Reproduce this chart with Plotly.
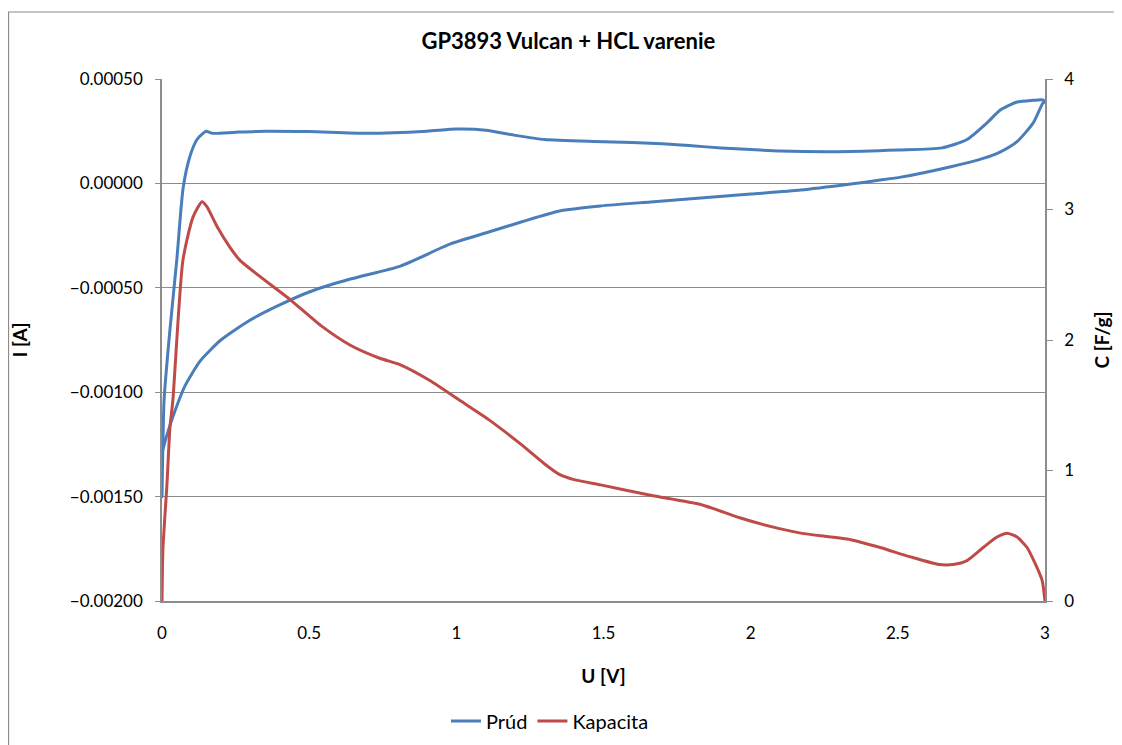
import plotly.graph_objects as go

# Prúd (current) - CV loop, upper branch then lower branch back
u_prud = [0.0, 0.007, 0.027, 0.05, 0.072, 0.095, 0.119, 0.139, 0.15, 0.17, 0.25, 0.35, 0.5, 0.7,
          0.9, 1.0, 1.1, 1.2, 1.3, 1.5, 1.7, 1.8, 1.9, 2.0, 2.1, 2.3, 2.5, 2.65, 2.735, 2.803,
          2.847, 2.905, 2.96, 2.993, 3.0,
          2.993, 2.96, 2.905, 2.847, 2.79, 2.68, 2.51, 2.44, 2.34, 2.17, 2.0, 1.83, 1.66, 1.49,
          1.35, 1.22, 1.11, 0.98, 0.81, 0.64, 0.50, 0.40, 0.30, 0.20, 0.13, 0.078, 0.044, 0.02,
          0.003, 0.0]
i_prud = [-0.0015, -0.00104, -0.0007, -0.00037, -0.00002, 0.00013, 0.00021, 0.00024, 0.00025,
          0.00024, 0.000245, 0.00025, 0.000248, 0.00024, 0.00025, 0.00026, 0.000255, 0.00023,
          0.00021, 0.0002, 0.00019, 0.00018, 0.00017, 0.000162, 0.000155, 0.000152, 0.00016,
          0.00017, 0.00021, 0.00029, 0.00035, 0.00039, 0.000398, 0.0004, 0.00039,
          0.000385, 0.00029, 0.0002, 0.00015, 0.00012, 0.00008, 0.00003, 0.000016, -0.000003,
          -0.000032, -0.000051, -0.00007, -0.000089, -0.000108, -0.000132, -0.000185, -0.000233,
          -0.00029, -0.000396, -0.000458, -0.00052, -0.000582, -0.000654, -0.00075, -0.00085,
          -0.00097, -0.00109, -0.00119, -0.00128, -0.0015]

# Kapacita (capacitance)
u_kap = [0.0, 0.003, 0.017, 0.027, 0.037, 0.071, 0.105, 0.136, 0.153, 0.187, 0.231, 0.265, 0.435,
         0.54, 0.64, 0.74, 0.81, 0.91, 1.01, 1.11, 1.22, 1.30, 1.35, 1.40, 1.49, 1.66, 1.83,
         1.96, 2.07, 2.17, 2.34, 2.44, 2.54, 2.64, 2.688, 2.735, 2.79, 2.837, 2.871, 2.905,
         2.939, 2.966, 2.99, 3.0]
c_kap = [0.0, 0.39, 0.90, 1.33, 1.54, 2.61, 2.94, 3.06, 3.02, 2.87, 2.71, 2.61, 2.31, 2.11, 1.96,
         1.86, 1.81, 1.69, 1.54, 1.39, 1.20, 1.05, 0.97, 0.93, 0.89, 0.81, 0.74, 0.64, 0.57,
         0.52, 0.47, 0.41, 0.34, 0.28, 0.28, 0.31, 0.41, 0.49, 0.52, 0.49, 0.41, 0.29, 0.16, 0.0]

FONT = "Lato, 'Open Sans', sans-serif"
GRID = "#8c8c8c"

fig = go.Figure()
fig.add_trace(go.Scatter(x=u_prud, y=i_prud, name="Prúd", mode="lines",
                         line=dict(color="#4A7EBB", width=3, shape="spline", smoothing=0.6)))
fig.add_trace(go.Scatter(x=u_kap, y=c_kap, name="Kapacita", mode="lines", yaxis="y2",
                         line=dict(color="#BE4B48", width=3, shape="spline", smoothing=0.6)))

# page has an 8px body margin, so the figure is shrunk by 8px and margins shifted
fig.update_layout(
    width=1114, height=737,
    margin=dict(l=154, r=77, t=71, b=144),
    paper_bgcolor="white", plot_bgcolor="white",
    font=dict(family=FONT, size=17, color="black"),
    title=dict(text="<b>GP3893 Vulcan + HCL varenie</b>", x=0.503, xref="container",
               xanchor="center", y=0.955, yref="container", yanchor="middle",
               font=dict(size=22)),
    xaxis=dict(range=[0, 3], dtick=0.5, showgrid=False, zeroline=False, automargin=False,
               showline=True, linecolor=GRID, linewidth=1.5, ticks="", ticklabelstandoff=16,
               title=dict(text="<b>U [V]</b>", font=dict(size=19), standoff=28)),
    yaxis=dict(range=[-0.002, 0.0005], dtick=0.0005, tickformat=".5f", showgrid=True,
               gridcolor=GRID, gridwidth=1, zeroline=False, showline=True, linecolor=GRID,
               linewidth=1.5, ticks="outside", ticklen=5, tickcolor=GRID, automargin=False,
               ticklabelstandoff=9,
               title=dict(text="<b>I [A]</b>", font=dict(size=19), standoff=49)),
    yaxis2=dict(range=[0, 4], dtick=1, overlaying="y", side="right", showgrid=False,
                zeroline=False, showline=True, linecolor=GRID, linewidth=1.5, automargin=False,
                ticks="outside", ticklen=6, tickcolor=GRID, ticklabelstandoff=8,
                title=dict(text="<b>C [F/g]</b>", font=dict(size=19), standoff=23)),
    legend=dict(orientation="h", x=0.4865, xref="container", xanchor="center",
                y=0.0326, yref="container", yanchor="middle", font=dict(size=20)),
    shapes=[dict(type="rect", xref="paper", yref="paper", x0=-0.1738, x1=1.1,
                 y0=-0.3, y1=1.1284, line=dict(color="#8c8c8c", width=1.2))],
)

fig.write_html("out.html")
